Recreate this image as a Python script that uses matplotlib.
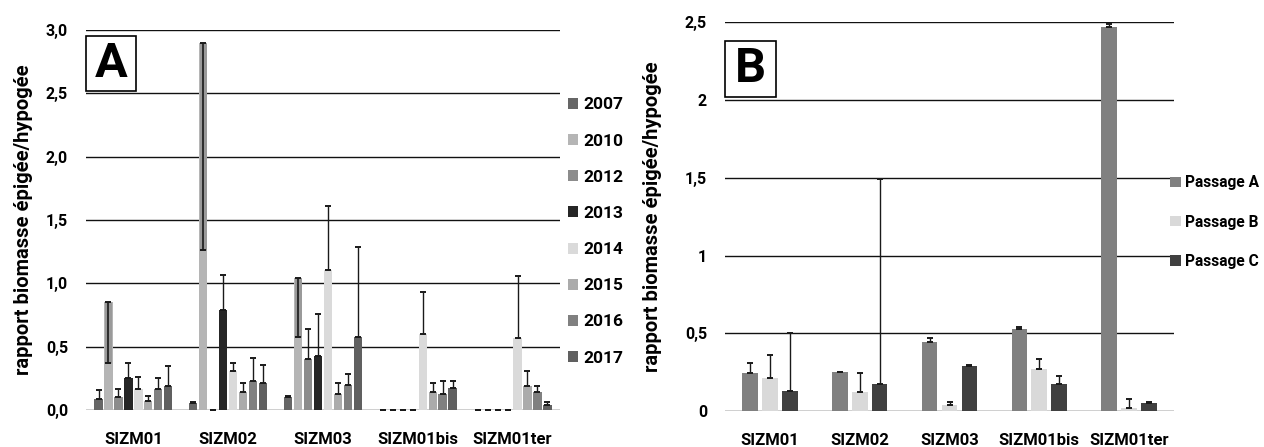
import matplotlib
matplotlib.use("Agg")
import matplotlib.pyplot as plt
from matplotlib.patches import Rectangle
import numpy as np

plt.rcParams['font.family'] = ['Roboto', 'DejaVu Sans']
plt.rcParams['font.weight'] = 'bold'

sites = ["SIZM01", "SIZM02", "SIZM03", "SIZM01bis", "SIZM01ter"]

# panneau A : rapport par année (2010 : barre d'erreur vers le bas)
years = ["2007", "2010", "2012", "2013", "2014", "2015", "2016", "2017"]
r2007 = [0.09, 0.055, 0.105, 0, 0]
r2010 = [0.85, 2.90, 1.04, 0, 0]
r2012 = [0.105, 0, 0.40, 0, 0]
r2013 = [0.255, 0.787, 0.424, 0, 0]
r2014 = [0.168, 0.31, 1.108, 0.597, 0.566]
r2015 = [0.073, 0.139, 0.13, 0.145, 0.189]
r2016 = [0.166, 0.229, 0.195, 0.124, 0.145]
r2017 = [0.192, 0.213, 0.574, 0.171, 0.039]

e2007 = [0.07, 0.005, 0.005, 0, 0]
e2010 = [0.48, 1.64, 0.46, 0, 0]
e2012 = [0.06, 0, 0.24, 0, 0]
e2013 = [0.115, 0.28, 0.33, 0, 0]
e2014 = [0.095, 0.063, 0.50, 0.337, 0.494]
e2015 = [0.04, 0.077, 0.086, 0.065, 0.119]
e2016 = [0.087, 0.184, 0.092, 0.108, 0.047]
e2017 = [0.158, 0.142, 0.716, 0.061, 0.027]

# panneau B : rapport par passage
passages = ["Passage A", "Passage B", "Passage C"]
pA = [0.243, 0.253, 0.442, 0.528, 2.47]
pB = [0.21, 0.122, 0.036, 0.268, 0.019]
pC = [0.129, 0.172, 0.292, 0.172, 0.049]
eA = [0.064, 0, 0.03, 0.011, 0.02]
eB = [0.15, 0.121, 0.022, 0.067, 0.058]
eC = [0.375, 1.318, 0.002, 0.053, 0.009]

couleurs_a = ["#666666", "#b5b5b5", "#8c8c8c", "#262626", "#dadada", "#ababab", "#808080", "#606060"]
couleurs_b = ["#808080", "#d9d9d9", "#404040"]
ylabel = "rapport biomasse épigée/hypogée"

fig = plt.figure(figsize=(12.64, 4.47), dpi=100)
x = np.arange(len(sites))


def habillage(ax, ymax, pas, fmt):
    ax.set_xlim(-0.5, len(sites) - 0.5)
    ax.set_ylim(0, ymax)
    ticks = np.arange(0, ymax + 1e-9, pas)
    ax.set_yticks(ticks)
    ax.set_yticklabels([fmt(t) for t in ticks], fontsize=11.5, fontweight='bold')
    for t in ticks:
        ax.axhline(t, color="#111111", lw=1.0, zorder=0)
    ax.set_xticks(x)
    ax.set_xticklabels(sites, fontsize=12, fontweight='bold')
    ax.tick_params(axis='both', length=0)
    ax.tick_params(axis='y', pad=13)
    ax.tick_params(axis='x', pad=16)
    for s in ax.spines.values():
        s.set_visible(False)
    ax.set_ylabel(ylabel, fontsize=14.5, fontweight='bold')


# ---- A ----
axA = fig.add_axes([0.068, 0.0828, 0.375, 0.8501])
valeurs = [r2007, r2010, r2012, r2013, r2014, r2015, r2016, r2017]
erreurs = [e2007, e2010, e2012, e2013, e2014, e2015, e2016, e2017]
pas_a = 0.105
larg_a = 0.088
barres_a = []
for i, (an, v, e) in enumerate(zip(years, valeurs, erreurs)):
    xi = x + (i - 3.5) * pas_a
    b = axA.bar(xi, v, width=larg_a, color=couleurs_a[i], label=an, zorder=2)
    barres_a.append(b)
    if an == "2010":
        axA.errorbar(xi, v, yerr=[e, np.zeros(len(e))], fmt='none', ecolor="#9a9a9a",
                     elinewidth=5, capsize=0, zorder=3)
        axA.errorbar(xi, v, yerr=[e, np.zeros(len(e))], fmt='none', ecolor="#1a1a1a",
                     elinewidth=1.2, capsize=2.5, capthick=1.4, zorder=4)
    else:
        axA.errorbar(xi, v, yerr=[np.zeros(len(e)), e], fmt='none', ecolor="#1a1a1a",
                     elinewidth=1.0, capsize=2.5, capthick=1.4, zorder=4)
habillage(axA, 3.0, 0.5, lambda t: f"{t:.1f}".replace(".", ","))
axA.yaxis.set_label_coords(-0.112, 0.5)
fig.legend(handles=barres_a, labels=years, loc='center left', bbox_to_anchor=(0.449, 0.482),
           frameon=False, prop={'weight': 'bold', 'size': 12.5},
           handlelength=0.6, handleheight=0.6, handletextpad=0.3, labelspacing=1.22,
           borderpad=0, borderaxespad=0)

# ---- B ----
axB = fig.add_axes([0.5736, 0.0805, 0.3552, 0.8696])
pas_b = 0.222
larg_b = 0.174
barres_b = []
for i, (nom, v, e) in enumerate(zip(passages, [pA, pB, pC], [eA, eB, eC])):
    xi = x + (i - 1) * pas_b
    b = axB.bar(xi, v, width=larg_b, color=couleurs_b[i], label=nom, zorder=2)
    barres_b.append(b)
    axB.errorbar(xi, v, yerr=[np.zeros(len(e)), e], fmt='none', ecolor="#1a1a1a",
                 elinewidth=1.0, capsize=2.5, capthick=1.4, zorder=4)
habillage(axB, 2.5, 0.5, lambda t: f"{t:g}".replace(".", ","))
axB.yaxis.set_label_coords(-0.14, 0.5)
fig.legend(handles=barres_b, labels=passages, loc='center left', bbox_to_anchor=(0.926, 0.503),
           frameon=False, prop={'weight': 'bold', 'size': 11.2},
           handlelength=0.65, handleheight=0.65, handletextpad=0.3, labelspacing=1.56,
           borderpad=0, borderaxespad=0)

# encadrés des lettres de panneau
for (x0, y0, w, h), lettre in [((0.068, 0.7964, 0.0396, 0.123), "A"),
                               ((0.5736, 0.783, 0.0403, 0.125), "B")]:
    fig.add_artist(Rectangle((x0, y0), w, h, transform=fig.transFigure,
                             facecolor="white", edgecolor="black", lw=1.2, zorder=5))
    fig.text(x0 + w / 2, y0 + h / 2, lettre, ha='center', va='center',
             fontsize=35, fontweight='bold', zorder=6)

fig.savefig("out.png", dpi=100)
